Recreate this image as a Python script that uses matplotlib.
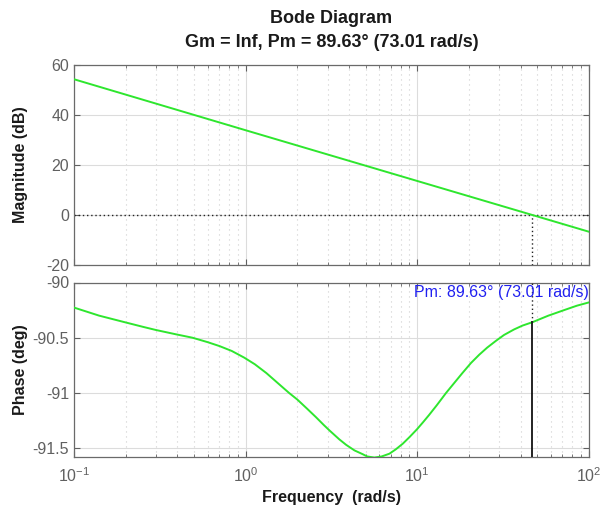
import numpy as np
import matplotlib
matplotlib.use("Agg")
import matplotlib.pyplot as plt
from matplotlib.ticker import LogLocator, FixedLocator

plt.rcParams['font.family'] = ['Liberation Sans', 'DejaVu Sans']
plt.rcParams['axes.unicode_minus'] = False

# ---- data ----
mag_freq = [0.1, 1.0, 10.0, 100.0]
mag_db = [54.3, 33.9, 13.6, -6.7]

phase_freq = [0.1, 0.14, 0.198, 0.25, 0.30, 0.395, 0.49, 0.6, 0.705, 0.83, 0.98,
              1.13, 1.32, 1.55, 1.79, 2.0, 2.27, 2.57, 2.85, 3.08, 3.51, 3.85,
              4.3, 4.81, 5.1, 5.62, 6.2, 6.88, 7.5, 8.22, 9.0, 9.94, 10.8, 11.7,
              13.0, 14.7, 16.4, 18.3, 20.5, 22.9, 25.5, 28.6, 32.0, 36.6, 41.0,
              46.7, 58.0, 71.6, 85.0, 100.0]
phase_deg = [-90.227, -90.30, -90.36, -90.40, -90.43, -90.47, -90.50, -90.54,
             -90.576, -90.62, -90.68, -90.74, -90.82, -90.915, -91.0, -91.06,
             -91.14, -91.22, -91.29, -91.34, -91.42, -91.47, -91.52, -91.555,
             -91.575, -91.585, -91.575, -91.55, -91.51, -91.46, -91.40, -91.33,
             -91.265, -91.20, -91.11, -91.00, -90.91, -90.82, -90.73, -90.655,
             -90.59, -90.53, -90.475, -90.425, -90.39, -90.36, -90.30, -90.25,
             -90.21, -90.18]

wc = 46.7          # crossover frequency position (as drawn)
pm_phase = -90.36  # phase at crossover
title1 = "Bode Diagram"
title2 = "Gm = Inf, Pm = 89.63° (73.01 rad/s)"
pm_text = "Pm: 89.63° (73.01 rad/s)"

mag_ticks = [-20, 0, 20, 40, 60]
phase_ticks = [-91.5, -91, -90.5, -90]
phase_ticklabels = ['-91.5', '-91', '-90.5', '-90']

# ---- figure ----
fig = plt.figure(figsize=(6.03, 5.13), dpi=100)
W, H = 603, 513
left = 74 / W
width = (589 - 74) / W
ax1 = fig.add_axes([left, 1 - 265 / H, width, 200 / H])
ax2 = fig.add_axes([left, 1 - 457 / H, width, (457 - 282.5) / H])

green = '#2ee62e'
tick_col = '#606060'
edge_col = '#6a6a6a'

for ax in (ax1, ax2):
    ax.set_xscale('log')
    ax.set_xlim(0.1, 100)
    ax.xaxis.set_major_locator(LogLocator(base=10, numticks=10))
    ax.xaxis.set_minor_locator(LogLocator(base=10, subs=np.arange(2, 10), numticks=10))
    ax.grid(True, which='major', color='#dcdcdc', linestyle='-', linewidth=0.8)
    ax.grid(True, which='minor', axis='x', color='#cfcfcf', linestyle=(0, (1, 3.5)), linewidth=0.8)
    ax.tick_params(which='both', direction='in', top=True, right=True,
                   colors=tick_col, labelsize=11.5, labelcolor=tick_col)
    ax.tick_params(which='major', length=4)
    ax.tick_params(which='minor', length=2)
    for s in ax.spines.values():
        s.set_color(edge_col)
        s.set_linewidth(0.9)
    ax.set_axisbelow(True)

# magnitude
ax1.plot(mag_freq, mag_db, color=green, linewidth=1.4, zorder=3)
ax1.set_ylim(-20, 60)
ax1.yaxis.set_major_locator(FixedLocator(mag_ticks))
ax1.axhline(0, color='#222222', linestyle=(0, (1, 2)), linewidth=1.0, zorder=2)
ax1.plot([wc, wc], [-20, 0], color='#222222', linestyle=(0, (1, 2)), linewidth=1.0, zorder=2)
ax1.tick_params(labelbottom=False)
ax1.set_ylabel('Magnitude (dB)', fontsize=11.5, fontweight='bold', color='#1a1a1a')

# phase
ax2.plot(phase_freq, phase_deg, color=green, linewidth=1.4, zorder=3)
ax2.set_ylim(-91.58, -90)
ax2.yaxis.set_major_locator(FixedLocator(phase_ticks))
ax2.set_yticklabels(phase_ticklabels)
ax2.plot([wc, wc], [-91.58, pm_phase], color='#111111', linestyle='-', linewidth=1.3, zorder=4)
ax2.plot([wc, wc], [pm_phase, -90], color='#222222', linestyle=(0, (1, 2)), linewidth=1.0, zorder=4)
ax2.text(100, -90.025, pm_text, color='#2020f0', fontsize=11.5, ha='right', va='top', zorder=5)
ax2.set_ylabel('Phase (deg)', fontsize=11.5, fontweight='bold', color='#1a1a1a')
ax2.set_xlabel('Frequency  (rad/s)', fontsize=11.5, fontweight='bold', color='#1a1a1a', labelpad=3)
ax2.tick_params(axis='x', pad=7)

# align y labels
ax1.yaxis.set_label_coords(-0.09, 0.5)
ax2.yaxis.set_label_coords(-0.09, 0.5)

cx = (74 + 589) / 2 / W
fig.text(cx, 1 - 19 / H, title1, ha='center', va='center', fontsize=13, fontweight='bold', color='#1a1a1a')
fig.text(cx, 1 - 43 / H, title2, ha='center', va='center', fontsize=13, fontweight='bold', color='#1a1a1a')

fig.savefig('out.png', dpi=100, facecolor='white')
